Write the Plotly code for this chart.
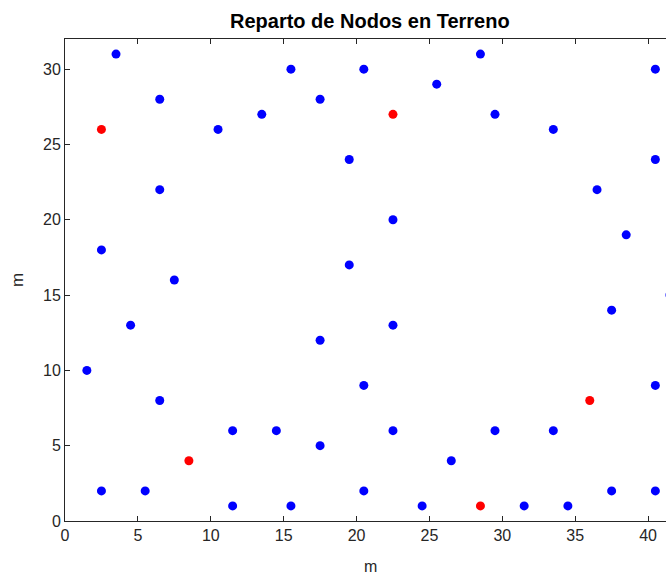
import plotly.graph_objects as go

# nodos normales (azul)
nodos_x = [3.5, 6.5, 2.5, 6.5, 7.5, 4.5, 1.5, 6.5, 2.5, 5.5,
           10.5, 13.5, 15.5, 17.5, 20.5, 19.5, 22.5, 19.5, 17.5, 22.5,
           20.5, 11.5, 14.5, 17.5, 22.5, 11.5, 15.5, 20.5, 24.5, 26.5,
           28.5, 25.5, 29.5, 33.5, 29.5, 33.5, 31.5, 34.5, 37.5, 40.5,
           40.5, 37.5, 41.5, 38.5, 36.5, 40.5, 40.5]
nodos_y = [31, 28, 18, 22, 16, 13, 10, 8, 2, 2,
           26, 27, 30, 28, 30, 24, 20, 17, 12, 13,
           9, 6, 6, 5, 6, 1, 1, 2, 1, 4,
           31, 29, 27, 26, 6, 6, 1, 1, 2, 2,
           9, 14, 15, 19, 22, 24, 30]

# nodos destacados (rojo)
rojo_x = [2.5, 22.5, 8.5, 28.5, 36]
rojo_y = [26, 27, 4, 1, 8]

fuente = "Liberation Sans, Arial"

fig = go.Figure()
fig.add_trace(go.Scatter(x=nodos_x, y=nodos_y, mode="markers",
                         marker=dict(color="#0000ff", size=9), showlegend=False))
fig.add_trace(go.Scatter(x=rojo_x, y=rojo_y, mode="markers",
                         marker=dict(color="#ff0000", size=9), showlegend=False))

axis_style = dict(showgrid=False, zeroline=False, showline=True, linecolor="#262626",
                  linewidth=1, ticks="inside", ticklen=5, tickcolor="#262626",
                  tickfont=dict(family=fuente, size=16, color="#262626"))

fig.update_xaxes(range=[0, 41.23], dtick=5, mirror="ticks", **axis_style)
fig.update_yaxes(range=[0, 32], dtick=5, mirror=False, **axis_style)

fig.update_layout(
    width=666, height=576, autosize=False,
    margin=dict(l=65, r=0, t=39, b=55),
    plot_bgcolor="white", paper_bgcolor="white",
    annotations=[
        dict(text="<b>Reparto de Nodos en Terreno</b>", xref="paper", yref="paper",
             x=0.5075, y=1, yshift=5, xanchor="center", yanchor="bottom", showarrow=False,
             font=dict(family=fuente, size=20, color="black")),
        dict(text="m", xref="paper", yref="paper", x=0.5075, y=0, yshift=-45,
             xanchor="center", yanchor="middle", showarrow=False,
             font=dict(family=fuente, size=16, color="#262626")),
        dict(text="m", xref="paper", yref="paper", x=0, xshift=-48, y=0.5,
             xanchor="center", yanchor="middle", textangle=-90, showarrow=False,
             font=dict(family=fuente, size=17, color="#262626")),
    ],
)

fig.write_html("out.html", config={"displayModeBar": False},
               post_script="document.body.style.margin='0';document.body.style.overflow='hidden';")
